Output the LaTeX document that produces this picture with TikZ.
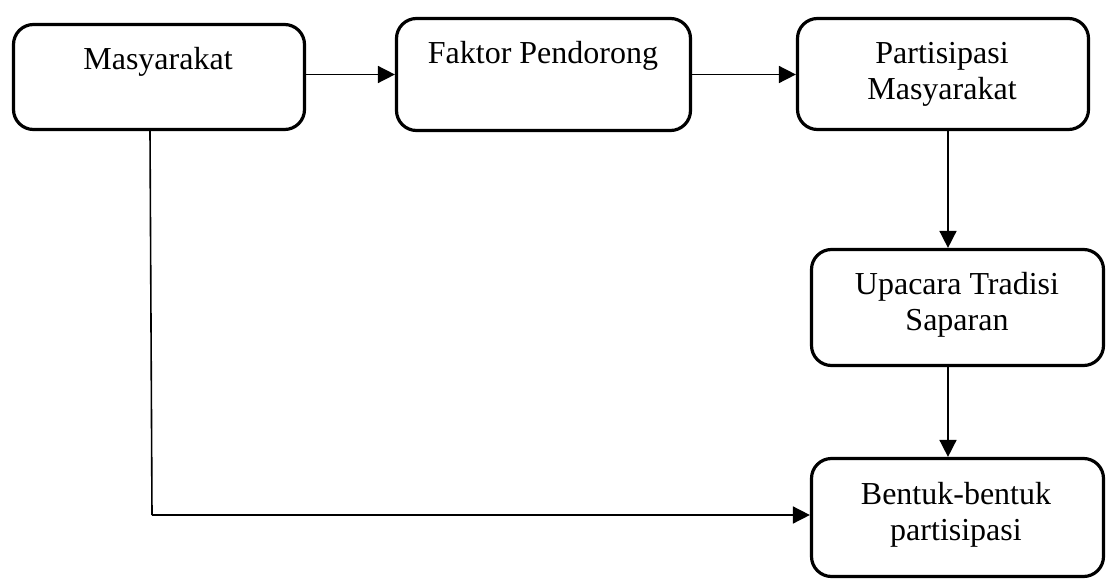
\documentclass[tikz,border=0pt]{standalone}
\usepackage{fontspec}
\setmainfont{Liberation Serif}
\usetikzlibrary{arrows.meta}
\begin{document}
\begin{tikzpicture}[x=1pt,y=-1pt,
  box/.style={draw=black,line width=3.2pt,rounded corners=20pt,inner sep=0pt},
  lbl/.style={font=\fontsize{32}{36}\selectfont,align=center,inner sep=0pt},
  arr/.style={line width=1.6pt,-{Triangle[length=17pt,width=17pt]}},
  ln/.style={line width=1.6pt}]
\useasboundingbox (0,0) rectangle (1106,581);
% boxes
\node[box,minimum width=291pt,minimum height=105pt] (m) at (159,77) {};
\node[box,minimum width=294pt,minimum height=112pt] (f) at (543.5,74.5) {};
\node[box,minimum width=291pt,minimum height=111pt] (p) at (943,74) {};
\node[box,minimum width=292pt,minimum height=116pt] (u) at (957.5,307.5) {};
\node[box,minimum width=292pt,minimum height=118pt] (b) at (957.5,517.5) {};
% texts
\node[lbl] (mt) at (158,62) {Masyarakat};
\node[lbl] (ft) at (543,56) {Faktor Pendorong};
\node[lbl] (pt) at (942,74) {Partisipasi\\Masyarakat};
\node[lbl] (ut) at (957,305) {Upacara Tradisi\\Saparan};
\node[lbl] (bt) at (956,515) {Bentuk-bentuk\\partisipasi};
% helper coordinates
\coordinate (vx) at (948,0);
\coordinate (lx) at (150,0);
\coordinate (corner) at (152,515);
% connectors
\draw[arr] (m.east |- f.west) -- (f.west);
\draw[arr] (f.east) -- (p.west |- f.east);
\draw[arr] (p.south -| vx) -- (u.north -| vx);
\draw[arr] (u.south -| vx) -- (b.north -| vx);
\draw[ln] (m.south -| lx) -- (corner);
\draw[arr] (corner) -- (b.west |- corner);
\end{tikzpicture}
\end{document}
